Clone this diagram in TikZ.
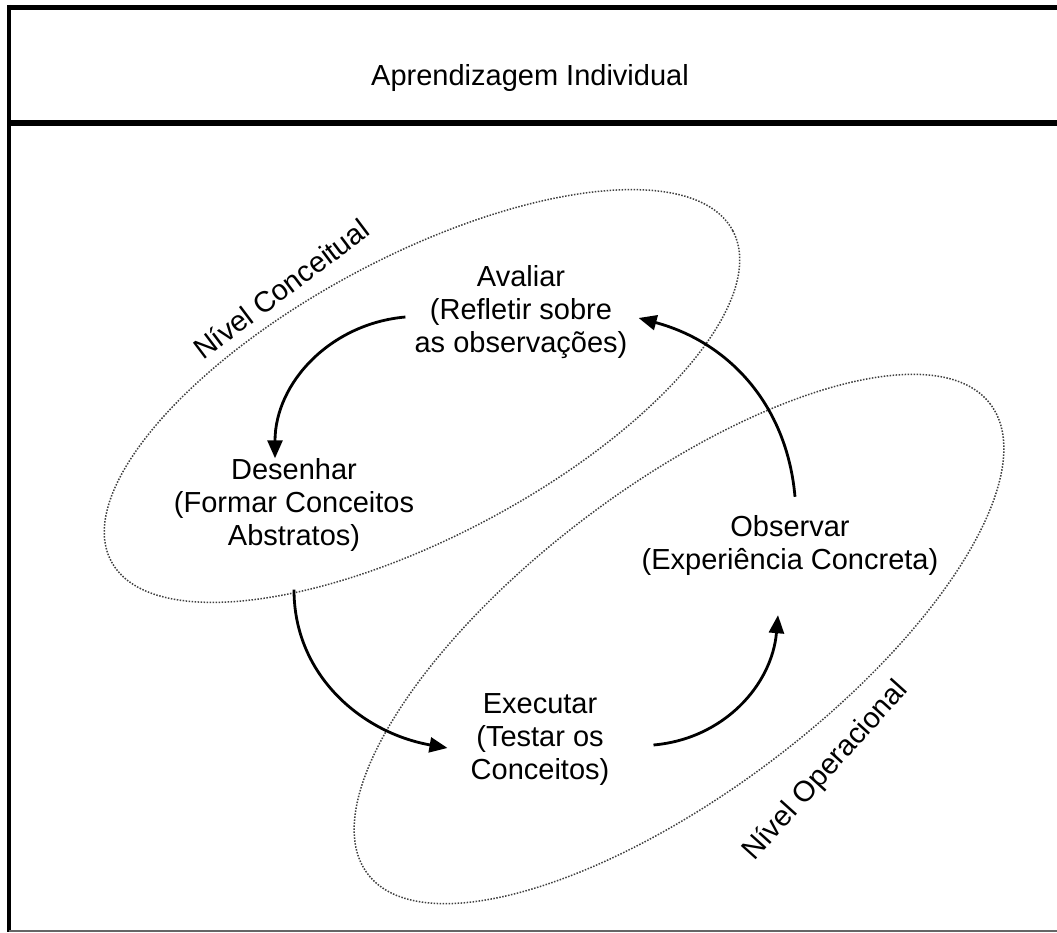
\documentclass[tikz,border=0pt]{standalone}
\usepackage{fontspec}
\setmainfont{Liberation Sans}
\usetikzlibrary{arrows.meta, positioning}

\begin{document}
\begin{tikzpicture}[
    x=1pt, y=1pt,
    >={Triangle[length=18pt, width=15pt]},
    font=\fontsize{29}{33}\selectfont,
    stage/.style={align=center, inner sep=0pt},
    level/.style={inner sep=0pt},
    ring/.style={draw=black!75, line width=1.5pt, dash pattern=on 1.5pt off 1.5pt},
    flow/.style={->, line width=2.8pt}
]
\useasboundingbox (0,0) rectangle (1057,932);

% frame
\draw[line width=5pt] (7,924.5) -- (1057,924.5);
\draw[line width=6pt] (7,808.5) -- (1057,808.5);
\draw[line width=4.5pt] (9,927) -- (9,0);
\draw[line width=2pt, black!60] (9,1) -- (1057,1);

\node[anchor=base] (title) at (530,846) {Aprendizagem Individual};

% levels
\draw[ring, rotate around={28:(422,536)}] (422,536) ellipse [x radius=352pt, y radius=140pt];
\draw[ring, rotate around={37:(679,293)}] (679,293) ellipse [x radius=390pt, y radius=153pt];

\node[level, rotate=37] (conc) at (281,643) {Nível Conceitual};
\node[level, rotate=48] (oper) at (826,161) {Nível Operacional};

% stages
\node[stage] (aval) at (521,620) {Avaliar\\(Refletir sobre\\as observações)};
\node[stage] (des)  at (294,427) {Desenhar\\(Formar Conceitos\\Abstratos)};
\node[stage] (obs)  at (790,386) {Observar\\(Experiência Concreta)};
\node[stage] (exe)  at (540,192) {Executar\\(Testar os\\Conceitos)};

\draw[flow] ([xshift=-9pt,yshift=-5pt]aval.west) to[out=185,in=90] ([xshift=-19pt]des.north);
\draw[flow] ([yshift=-38pt]des.south) to[out=270,in=170] ([xshift=-23pt,yshift=-8pt]exe.west);
\draw[flow] ([xshift=44pt,yshift=-5pt]exe.east) to[out=5,in=265] ([xshift=-12pt,yshift=-39pt]obs.south);
\draw[flow] ([xshift=5pt,yshift=19pt]obs.north) to[out=95,in=-15] ([xshift=11pt,yshift=-6pt]aval.east);

\end{tikzpicture}
\end{document}
